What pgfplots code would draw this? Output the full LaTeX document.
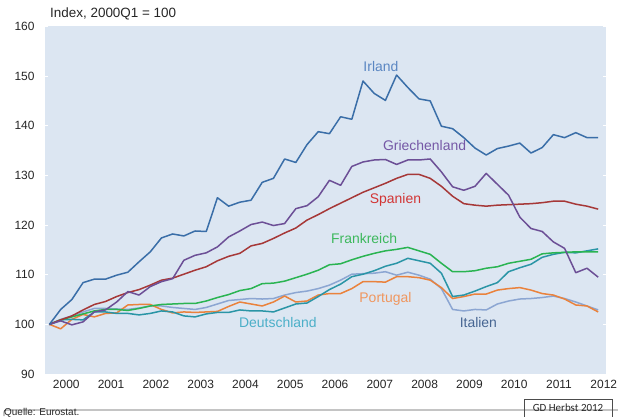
\documentclass[border=0pt]{standalone}
\usepackage{fontspec}
\setmainfont{Liberation Sans}
\newfontfamily\calib{Carlito}
\usepackage{pgfplots}
\pgfplotsset{compat=1.18}
\usepackage{pgfplotstable}

\definecolor{bgblue}{HTML}{DCE6F2}
\definecolor{irl}{HTML}{3A6EA8}
\definecolor{irlL}{HTML}{5A86C2}
\definecolor{gre}{HTML}{6C4F96}
\definecolor{greL}{HTML}{7558A6}
\definecolor{esp}{HTML}{A63838}
\definecolor{espL}{HTML}{D23434}
\definecolor{fra}{HTML}{2AB452}
\definecolor{fraL}{HTML}{3CB85C}
\definecolor{deu}{HTML}{2A95A6}
\definecolor{deuL}{HTML}{4BAFC8}
\definecolor{por}{HTML}{EA823C}
\definecolor{porL}{HTML}{F0965E}
\definecolor{ita}{HTML}{8CA6D2}
\definecolor{itaL}{HTML}{466592}

% quarter index 0 = 2000Q1
\pgfplotstableread{
i  irl    gre    esp    fra    deu    por    ita
0  100.0  100.0  100.0  100.0  100.0  100.0  100.0
1  103.0  100.7  100.9  100.9  100.9  99.1   101.0
2  105.0  99.9   101.7  101.5  101.0  101.0  101.7
3  108.4  100.5  102.9  102.1  100.9  102.0  102.5
4  109.1  102.5  104.0  102.7  102.5  101.5  103.2
5  109.1  102.9  104.6  103.0  102.5  102.2  103.2
6  109.9  104.5  105.6  103.0  102.2  102.3  103.1
7  110.5  106.6  106.4  102.8  102.2  103.9  103.0
8  112.6  105.9  107.0  103.2  101.9  104.0  103.3
9  114.6  107.6  107.9  103.7  102.2  104.0  103.7
10 117.4  108.6  108.9  104.0  102.7  103.0  103.7
11 118.2  109.2  109.3  104.1  102.5  102.3  103.4
12 117.8  112.9  110.1  104.2  101.7  102.5  103.2
13 118.8  113.9  110.9  104.2  101.5  102.4  103.0
14 118.7  114.4  111.6  104.7  102.1  102.5  103.4
15 125.5  115.6  112.8  105.4  102.4  102.6  104.1
16 123.8  117.6  113.7  106.0  102.4  103.6  104.8
17 124.6  118.8  114.3  106.8  102.9  104.5  105.0
18 125.0  120.1  115.8  107.2  102.7  104.1  105.2
19 128.6  120.6  116.3  108.2  102.7  103.7  105.1
20 129.4  119.9  117.3  108.3  102.5  104.5  105.2
21 133.3  120.3  118.4  108.7  103.3  105.7  105.9
22 132.6  123.3  119.4  109.4  104.1  104.5  106.4
23 136.2  123.9  121.0  110.1  104.3  104.7  106.7
24 138.8  125.7  122.1  110.9  105.6  105.9  107.2
25 138.4  129.0  123.3  112.0  107.0  106.2  107.9
26 141.8  128.0  124.4  112.2  108.1  106.2  108.9
27 141.3  131.8  125.5  113.0  109.6  107.2  110.1
28 149.0  132.7  126.6  113.7  110.1  108.6  110.2
29 146.5  133.1  127.5  114.3  110.8  108.6  110.3
30 145.1  133.2  128.4  114.8  111.7  108.5  110.6
31 150.2  132.2  129.4  115.1  112.3  109.6  109.9
32 147.7  133.1  130.2  115.5  113.3  109.6  110.5
33 145.4  133.1  130.2  114.8  112.8  109.4  109.9
34 145.0  133.3  129.4  114.1  112.3  108.9  109.1
35 139.9  130.7  127.8  112.3  110.3  107.4  107.2
36 139.4  127.7  125.8  110.6  105.6  105.2  103.0
37 137.6  127.0  124.3  110.6  105.9  105.6  102.7
38 135.5  127.8  124.0  110.8  106.7  106.1  103.0
39 134.1  130.4  123.8  111.3  107.6  106.1  102.9
40 135.4  128.2  124.0  111.6  108.4  106.9  104.1
41 135.9  126.0  124.1  112.3  110.6  107.2  104.7
42 136.5  121.6  124.2  112.7  111.4  107.4  105.1
43 134.5  119.3  124.3  113.1  112.1  106.9  105.2
44 135.6  118.7  124.5  114.2  113.5  106.2  105.4
45 138.2  116.6  124.8  114.4  114.1  105.9  105.7
46 137.6  115.3  124.8  114.5  114.5  105.1  105.2
47 138.6  110.4  124.2  114.6  114.4  103.9  104.5
48 137.6  111.3  123.8  114.6  114.8  103.7  103.7
49 137.6  109.5  123.2  114.6  115.2  102.5  102.9
}\hpi

\begin{document}
\begin{tikzpicture}[x=1bp,y=1bp]
\useasboundingbox (0,0) rectangle (618,416);
% frame remnant at top
\draw[black!65,line width=0.8bp,rounded corners=2bp] (4,0) -- (4,6) -- (618,6);
\node[anchor=west,font=\fontsize{13.5}{15}\selectfont,text=black!85,inner sep=0] at (50,402) {Index, 2000Q1 = 100};
\begin{axis}[
  at={(45bp,42bp)}, anchor=south west,
  scale only axis, width=561bp, height=347.6bp,
  xmin=-0.4, xmax=49.7, ymin=90, ymax=160,
  axis background/.style={fill=bgblue},
  axis line style={draw=none},
  xtick={1.5,5.5,...,49.5},
  xticklabels={2000,2001,2002,2003,2004,2005,2006,2007,2008,2009,2010,2011,2012},
  x tick style={draw=none},
  extra x ticks={3.5,7.5,...,47.5},
  extra x tick labels={},
  extra x tick style={major tick length=3bp, tick style={draw=white,line width=1bp}},
  ytick={90,100,...,160},
  y tick style={draw=white,line width=1bp},
  major tick length=3bp,
  tick align=inside,
  ticklabel style={font=\fontsize{12}{14}\selectfont, text=black!85},
  /pgf/number format/assume math mode=true,
  yticklabel style={xshift=-7bp},
  xticklabel style={yshift=-3bp},
  clip=false,
  every axis plot/.append style={line width=1.5bp, line join=round, mark=none},
]
\addplot[ita] table[x=i,y=ita]{\hpi};
\addplot[por] table[x=i,y=por]{\hpi};
\addplot[deu] table[x=i,y=deu]{\hpi};
\addplot[fra] table[x=i,y=fra]{\hpi};
\addplot[esp] table[x=i,y=esp]{\hpi};
\addplot[gre] table[x=i,y=gre]{\hpi};
\addplot[irl] table[x=i,y=irl]{\hpi};
\begin{scope}[every node/.style={font=\fontsize{14}{16}\selectfont, inner sep=0}]
\node[text=irlL] at (axis cs:29.6,152.0) {Irland};
\node[text=greL] at (axis cs:33.5,136.1) {Griechenland};
\node[text=espL] at (axis cs:30.9,125.0) {Spanien};
\node[text=fraL] at (axis cs:28.1,117.3) {Frankreich};
\node[text=porL] at (axis cs:30.0,105.1) {Portugal};
\node[text=deuL] at (axis cs:20.4,100.3) {Deutschland};
\node[text=itaL] at (axis cs:38.3,100.3) {Italien};
\end{scope}
\end{axis}
\node[anchor=west,font=\fontsize{10}{12}\selectfont,text=black!85,inner sep=0] at (4,3.5) {Quelle: Eurostat.};
\draw[black!70,line width=0.7bp] (524,-2) rectangle (612,17);
\node[font=\calib\fontsize{11}{13}\selectfont,text=black!85] at (568,8) {GD Herbst 2012};
\end{tikzpicture}
\end{document}
